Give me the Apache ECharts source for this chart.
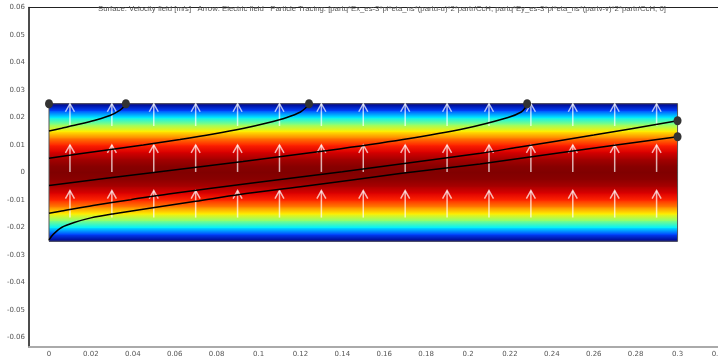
<!DOCTYPE html>
<html>
<head>
	<meta charset="utf-8">
	<title>Velocity field and particle tracing</title>
</head>
<body style="margin:0">
<script type="text/javascript" src="https://cdn.jsdelivr.net/npm/echarts@6/dist/echarts.min.js"></script>
<div id="container" style="width: 718px;height: 360px;"></div>
<script type="text/javascript">
    // tick labels
    var xTicks = [0, 0.02, 0.04, 0.06, 0.08, 0.1, 0.12, 0.14, 0.16, 0.18, 0.2, 0.22, 0.24, 0.26, 0.28, 0.3, 0.32];
    var yTicks = [-0.06, -0.05, -0.04, -0.03, -0.02, -0.01, 0, 0.01, 0.02, 0.03, 0.04, 0.05, 0.06];

    var channelX = [0, 0.3];
    var channelY = [-0.025, 0.025];
    var profileY = [-0.025, -0.0225, -0.02, -0.0175, -0.015, -0.0125, -0.01, -0.0075, -0.005, -0.0025, 0,
                    0.0025, 0.005, 0.0075, 0.01, 0.0125, 0.015, 0.0175, 0.02, 0.0225, 0.025];
    var profileV = [0, 0.19, 0.36, 0.51, 0.64, 0.75, 0.84, 0.91, 0.96, 0.99, 1.0,
                    0.99, 0.96, 0.91, 0.84, 0.75, 0.64, 0.51, 0.36, 0.19, 0];

    // electric field arrows
    var arrowX = [0.01, 0.03, 0.05, 0.07, 0.09, 0.11, 0.13, 0.15, 0.17, 0.19, 0.21, 0.23, 0.25, 0.27, 0.29];
    var arrowRowY = [-0.0164, 0.0002, 0.0169];
    var arrowLen = 0.0098;

    // particle tracks
    var track1X = [0, 0.006, 0.0148, 0.022, 0.0291, 0.0339, 0.0358, 0.0367];
    var track1Y = [0.0151, 0.0161, 0.0176, 0.019, 0.0207, 0.0227, 0.024, 0.025];
    var track2X = [0, 0.026, 0.045, 0.0625, 0.0785, 0.0925, 0.104, 0.1135, 0.12, 0.1232, 0.1241];
    var track2Y = [0.0052, 0.008, 0.01, 0.012, 0.014, 0.016, 0.018, 0.02, 0.022, 0.024, 0.025];
    var track3X = [0, 0.0499, 0.0926, 0.133, 0.169, 0.1985, 0.2191, 0.2254, 0.2276, 0.2282];
    var track3Y = [-0.0047, 0, 0.004, 0.008, 0.012, 0.016, 0.02, 0.022, 0.0238, 0.025];
    var track4X = [0, 0.006, 0.021, 0.039, 0.057, 0.098, 0.14, 0.183, 0.206, 0.224, 0.26, 0.3];
    var track4Y = [-0.0148, -0.014, -0.012, -0.0099, -0.0078, -0.0037, 0.0003, 0.0046, 0.007, 0.0092, 0.0136, 0.0188];
    var track5X = [0, 0.002, 0.006, 0.012, 0.02, 0.031, 0.048, 0.07, 0.091, 0.12, 0.1675, 0.2057, 0.25, 0.3];
    var track5Y = [-0.0245, -0.0225, -0.02, -0.0182, -0.0165, -0.015, -0.013, -0.0105, -0.008, -0.0052, -0.0004, 0.0031, 0.0078, 0.013];

    // particle end points
    var dotsX = [0, 0.0367, 0.1241, 0.2282, 0.3, 0.3];
    var dotsY = [0.025, 0.025, 0.025, 0.025, 0.0188, 0.013];

    var titleText = 'Surface: Velocity field [m/s]   Arrow: Electric field   Particle Tracing: [partq*Ex_es-3*pi*eta_ns*(partu-u)*2*partr/CcH, partq*Ey_es-3*pi*eta_ns*(partv-v)*2*partr/CcH, 0]';

    function clamp(a) { return Math.max(0, Math.min(1, a)); }
    function jet(v) {
        var r = clamp(1.5 - Math.abs(4 * v - 3));
        var g = clamp(1.5 - Math.abs(4 * v - 2));
        var b = clamp(1.5 - Math.abs(4 * v - 1));
        return 'rgb(' + Math.round(r * 255) + ',' + Math.round(g * 255) + ',' + Math.round(b * 255) + ')';
    }
    function pairs(xs, ys) {
        return xs.map(function (x, i) { return [x, ys[i]]; });
    }
    function fmt(v) { return String(Math.round(v * 100) / 100); }

    var strips = [];
    for (var i = 0; i < profileY.length - 1; i++) {
        strips.push([profileY[i], profileY[i + 1], profileV[i], profileV[i + 1]]);
    }
    var arrows = [];
    arrowRowY.forEach(function (y) {
        arrowX.forEach(function (x) { arrows.push([x, y, arrowLen]); });
    });

    var myChart = echarts.init(document.getElementById('container'));
    var trackStyle = { color: '#000', width: 1.5 };
    var option = {
        animation: false,
        title: {
            text: titleText,
            left: 93,
            top: 0,
            textStyle: { fontSize: 7.75, fontWeight: 'normal', color: '#555', fontFamily: 'Liberation Sans' }
        },
        grid: { left: 29, top: 7.5, width: 691.5, height: 339.6, containLabel: false, outerBoundsMode: 'none' },
        xAxis: [{
            type: 'value', min: -0.00955, max: 0.3205,
            axisLine: { onZero: false, lineStyle: { color: '#aaa', width: 2 } },
            axisTick: { show: false },
            splitLine: { show: false },
            axisLabel: { customValues: xTicks, formatter: fmt, fontSize: 7, color: '#555', margin: 4, fontFamily: 'DejaVu Sans' }
        }, {
            type: 'value', position: 'top', min: -0.00955, max: 0.3205,
            axisLine: { onZero: false, lineStyle: { color: '#222', width: 1 } },
            axisTick: { show: false }, axisLabel: { show: false }, splitLine: { show: false }
        }],
        yAxis: {
            type: 'value', min: -0.0635, max: 0.06,
            axisLine: { onZero: false, lineStyle: { color: '#111', width: 1.5 } },
            axisTick: { show: false },
            splitLine: { show: false },
            axisLabel: { customValues: yTicks, formatter: fmt, fontSize: 7, color: '#555', margin: 4, fontFamily: 'DejaVu Sans' }
        },
        series: [{
            name: 'Surface',
            type: 'custom',
            data: strips,
            silent: true,
            renderItem: function (params, api) {
                var p1 = api.coord([channelX[0], api.value(1)]);
                var p2 = api.coord([channelX[1], api.value(0)]);
                return {
                    type: 'rect',
                    shape: { x: p1[0], y: p1[1] - 0.5, width: p2[0] - p1[0], height: p2[1] - p1[1] + 1 },
                    style: {
                        fill: new echarts.graphic.LinearGradient(0, 0, 0, 1, [
                            { offset: 0, color: jet(api.value(3)) },
                            { offset: 1, color: jet(api.value(2)) }
                        ])
                    }
                };
            }
        }, {
            name: 'Channel',
            type: 'custom',
            data: [[channelX[0], channelY[0], channelX[1], channelY[1]]],
            silent: true,
            renderItem: function (params, api) {
                var p1 = api.coord([api.value(0), api.value(3)]);
                var p2 = api.coord([api.value(2), api.value(1)]);
                return {
                    type: 'rect',
                    shape: { x: p1[0], y: p1[1], width: p2[0] - p1[0], height: p2[1] - p1[1] },
                    style: { fill: 'none', stroke: '#555', lineWidth: 1 }
                };
            }
        }, {
            name: 'Arrow',
            type: 'custom',
            data: arrows,
            silent: true,
            renderItem: function (params, api) {
                var x = api.value(0), y = api.value(1);
                var tipY = Math.min(y + api.value(2), channelY[1]);
                var tail = api.coord([x, y]);
                var tip = api.coord([x, tipY]);
                var st = { stroke: 'rgba(255,255,255,0.7)', lineWidth: 1.5, fill: 'none' };
                return {
                    type: 'group',
                    children: [{
                        type: 'line',
                        shape: { x1: tail[0], y1: tail[1], x2: tip[0], y2: tip[1] },
                        style: st
                    }, {
                        type: 'polyline',
                        shape: { points: [[tip[0] - 4.5, tip[1] + 8], [tip[0], tip[1]], [tip[0] + 4.5, tip[1] + 8]] },
                        style: st
                    }]
                };
            }
        },
        { type: 'line', data: pairs(track1X, track1Y), symbol: 'none', smooth: 0.3, lineStyle: trackStyle, silent: true },
        { type: 'line', data: pairs(track2X, track2Y), symbol: 'none', smooth: 0.3, lineStyle: trackStyle, silent: true },
        { type: 'line', data: pairs(track3X, track3Y), symbol: 'none', smooth: 0.3, lineStyle: trackStyle, silent: true },
        { type: 'line', data: pairs(track4X, track4Y), symbol: 'none', smooth: 0.3, lineStyle: trackStyle, silent: true },
        { type: 'line', data: pairs(track5X, track5Y), symbol: 'none', smooth: 0.3, lineStyle: trackStyle, silent: true },
        {
            type: 'scatter',
            data: pairs(dotsX, dotsY),
            symbolSize: [8, 9],
            itemStyle: { color: '#333', opacity: 1 },
            z: 5,
            silent: true
        }]
    };
    myChart.setOption(option);
</script>
</body>
</html>
